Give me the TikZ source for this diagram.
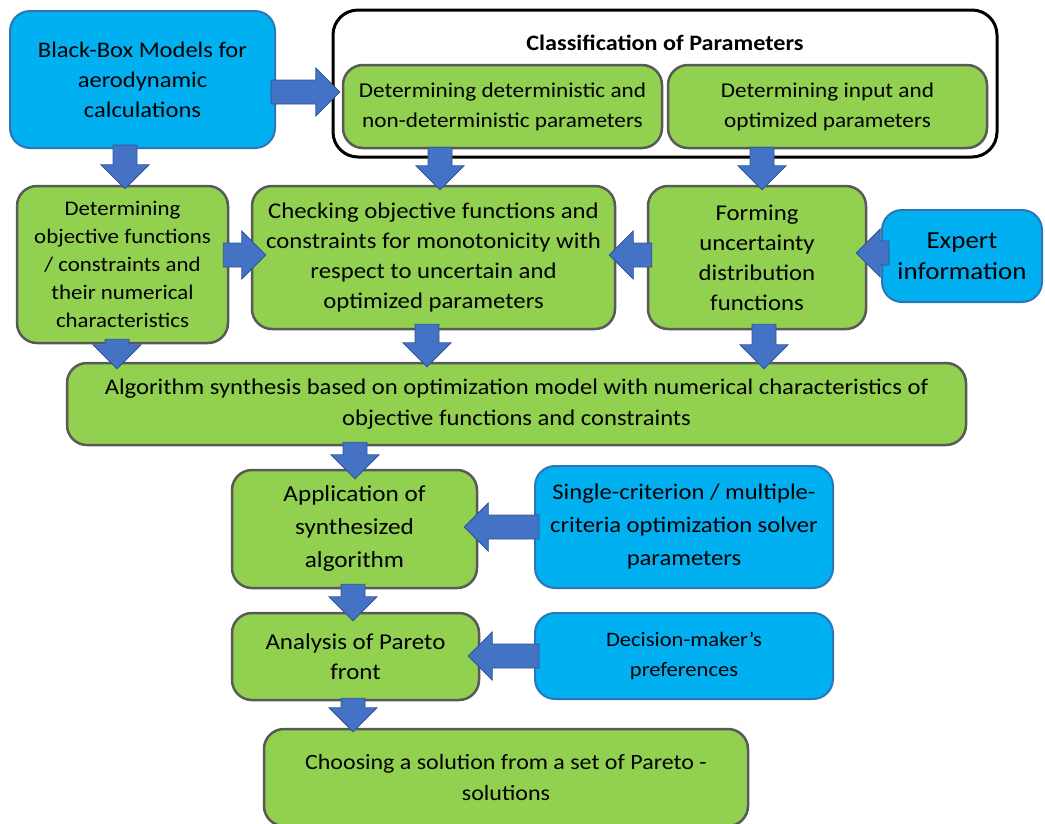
\documentclass[tikz,border=0pt]{standalone}
\usepackage{fontspec}
\setmainfont{Carlito}[FakeStretch=1.1]
\usetikzlibrary{calc}
\definecolor{gfill}{HTML}{92D050}
\definecolor{gline}{HTML}{595959}
\definecolor{bfill}{HTML}{00B0F0}
\definecolor{bline}{HTML}{2E75B6}
\definecolor{afill}{HTML}{4472C4}
\definecolor{aline}{HTML}{2F5597}
\newcommand{\blockarrow}[2]{%
  \coordinate (ba1) at #1;
  \coordinate (ba2) at #2;
  \coordinate (bac) at ($(ba2)!24pt!(ba1)$);
  \filldraw[barrow] ($(ba1)!12pt!90:(ba2)$) -- ($(bac)!12pt!-90:(ba1)$) -- ($(bac)!24pt!-90:(ba1)$) -- (ba2) -- ($(bac)!24pt!90:(ba1)$) -- ($(bac)!12pt!90:(ba1)$) -- ($(ba1)!12pt!-90:(ba2)$) -- cycle;}
\begin{document}
\begin{tikzpicture}[x=1pt,y=-1pt,
  box/.style={rounded corners=20pt, inner sep=0pt, align=center, text=black,
    font=\fontsize{22}{30}\selectfont},
  gbox/.style={box, fill=gfill, draw=gline, line width=2.5pt},
  bbox/.style={box, fill=bfill, draw=bline, line width=2pt},
  barrow/.style={fill=afill, draw=aline, line width=0.8pt, line join=miter}]
\useasboundingbox (0,0) rectangle (1045,823);
% top row
\node[bbox, minimum width=265pt, minimum height=137pt, font=\fontsize{22.3}{30}\selectfont] (bb) at (142.5,79.5) {Black-Box Models for\\aerodynamic\\calculations};
\node[draw=black, line width=3pt, rounded corners=25pt, minimum width=664pt, minimum height=147pt, inner sep=0pt] (cls) at (665,83.5) {};
\node[font=\bfseries\fontsize{22}{24}\selectfont, inner sep=0pt] (clst) at (665,43) {Classification of Parameters};
\node[gbox, minimum width=319pt, minimum height=83pt, font=\fontsize{21.1}{30}\selectfont] (det) at (502.5,106.5) {Determining deterministic and\\non-deterministic parameters};
\node[gbox, minimum width=319pt, minimum height=83pt, font=\fontsize{21.1}{30}\selectfont] (inp) at (827.5,106.5) {Determining input and\\optimized parameters};
% second row
\node[gbox, minimum width=211pt, minimum height=157pt, font=\fontsize{20.8}{28}\selectfont] (obj) at (122.5,264.5) {Determining\\objective functions\\/ constraints and\\their numerical\\characteristics};
\node[gbox, minimum width=363pt, minimum height=143pt, font=\fontsize{22.5}{30}\selectfont] (chk) at (433.5,257.5) {Checking objective functions and\\constraints for monotonicity with\\respect to uncertain and\\optimized parameters};
\node[gbox, minimum width=218pt, minimum height=143pt, font=\fontsize{22.5}{30}\selectfont] (frm) at (757,257.5) {Forming\\uncertainty\\distribution\\functions};
\node[bbox, minimum width=160pt, minimum height=92pt, font=\fontsize{24.5}{31}\selectfont] (exp) at (962,256) {Expert\\information};
% algorithm
\node[gbox, minimum width=899pt, minimum height=82pt, font=\fontsize{22.4}{31}\selectfont] (alg) at (516.5,404) {Algorithm synthesis based on optimization model with numerical characteristics of\\objective functions and constraints};
% lower rows
\node[gbox, minimum width=245pt, minimum height=118pt, font=\fontsize{22.9}{33}\selectfont] (app) at (354.5,529) {Application of\\synthesized\\algorithm};
\node[bbox, minimum width=298pt, minimum height=122pt, font=\fontsize{22.4}{33}\selectfont] (sgl) at (684,527) {Single-criterion / multiple-\\criteria optimization solver\\parameters};
\node[gbox, minimum width=247pt, minimum height=87pt, font=\fontsize{22.7}{30}\selectfont] (par) at (355.5,656.5) {Analysis of Pareto\\front};
\node[bbox, minimum width=298pt, minimum height=86pt, font=\fontsize{20.5}{30}\selectfont] (dec) at (684,656) {Decision-maker’s\\preferences};
\node[gbox, minimum width=484pt, minimum height=97pt, font=\fontsize{21.8}{31}\selectfont] (cho) at (506,777.5) {Choosing a solution from a set of Pareto -\\solutions};
% arrows
\blockarrow{($(bb.east)+(-5,12.5)$)}{($(det.west)+(-2,-14.5)$)}
\blockarrow{($(bb.south)+(-17.5,-4)$)}{($(obj.north)+(2.5,4)$)}
\blockarrow{($(det.south)+(-62.5,-2)$)}{($(chk.north)+(6.5,5)$)}
\blockarrow{($(inp.south)+(-65.5,-2)$)}{($(frm.north)+(5,5)$)}
\blockarrow{($(obj.east)+(-6,-9.5)$)}{($(chk.west)+(15,-2.5)$)}
\blockarrow{($(frm.west)+(5,-2.5)$)}{($(chk.east)+(-7,-2.5)$)}
\blockarrow{($(exp.west)+(8,-3)$)}{($(frm.east)+(-11,-4.5)$)}
\blockarrow{($(obj.south)+(-5.5,-5)$)}{($(alg.north)+(-399.5,7)$)}
\blockarrow{($(chk.south)+(-6.5,-6)$)}{($(alg.north)+(-89.5,5)$)}
\blockarrow{($(frm.south)+(7,-6)$)}{($(alg.north)+(247.5,7)$)}
\blockarrow{($(alg.south)+(-161.5,-4)$)}{($(app.north)+(0.5,10)$)}
\blockarrow{($(sgl.west)+(5,0)$)}{($(app.east)+(-14,-2)$)}
\blockarrow{($(app.south)+(-1.5,-5)$)}{($(par.north)+(-2.5,9)$)}
\blockarrow{($(dec.west)+(5,0)$)}{($(par.east)+(-12,-0.5)$)}
\blockarrow{($(par.south)+(-2.5,-3)$)}{($(cho.north)+(-153,4)$)}
\end{tikzpicture}
\end{document}
